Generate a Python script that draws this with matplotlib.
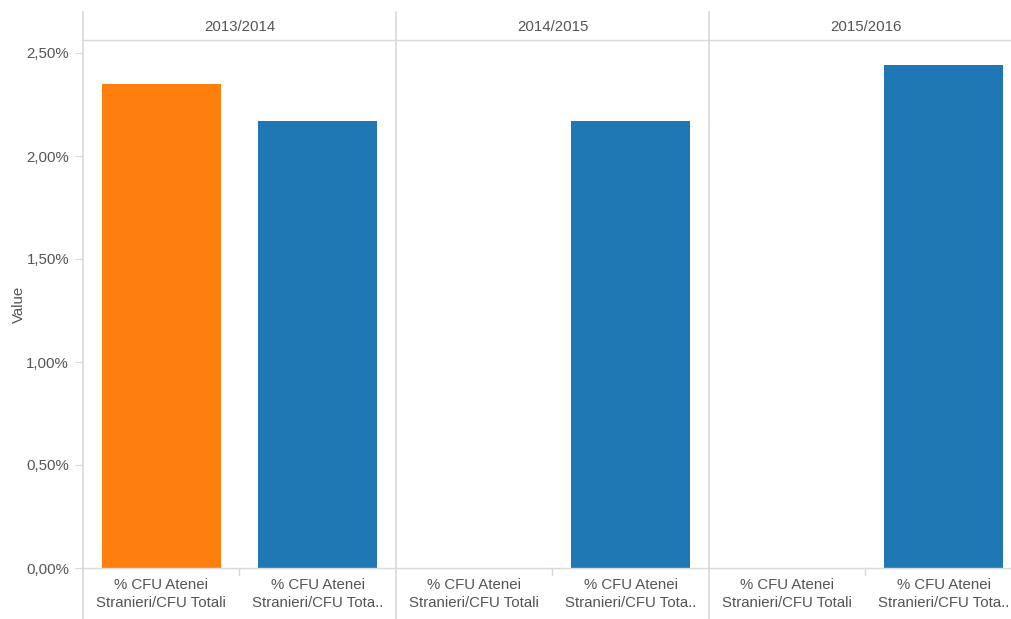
import numpy as np
import matplotlib
matplotlib.use("Agg")
import matplotlib.pyplot as plt
from matplotlib.transforms import blended_transform_factory
from matplotlib.lines import Line2D

years = ["2013/2014", "2014/2015", "2015/2016"]
labels = ["% CFU Atenei\nStranieri/CFU Totali", "% CFU Atenei\nStranieri/CFU Tota.."]
# value per (year, measure); nan = no bar
values = [[2.35, 2.17], [np.nan, 2.17], [np.nan, 2.44]]
colors = ["#ff7f0e", "#1f77b4"]
yticks = [0.0, 0.5, 1.0, 1.5, 2.0, 2.5]

W, H = 1012, 619
plt.rcParams["font.family"] = ["Liberation Sans", "DejaVu Sans"]
fig = plt.figure(figsize=(W / 100, H / 100), dpi=100)

# axes: x from 83px to 1022px (last panel cut off by figure), y from 40px to 568px
ax = fig.add_axes([83 / W, (H - 568) / H, 939 / W, 528 / H])
ymax = (568 - 40) / 206.0

text_col = "#555555"
line_col = "#d9d9d9"
fs = 10.8

xs, hs, cs = [], [], []
for i, row in enumerate(values):
    for j, v in enumerate(row):
        if not np.isnan(v):
            xs.append(i * 2 + j)
            hs.append(v)
            cs.append(colors[j])
ax.bar(xs, hs, width=0.76, color=cs)

ax.set_xlim(-0.5, 5.5)
ax.set_ylim(0, ymax)
for s in ax.spines.values():
    s.set_visible(False)

ax.set_yticks(yticks)
ax.set_yticklabels([f"{t:.2f}%".replace(".", ",") for t in yticks])
ax.tick_params(axis="y", length=6, color=line_col, labelcolor=text_col, labelsize=fs, pad=4)
ax.set_ylabel("Value", color=text_col, fontsize=fs)
ax.yaxis.set_label_coords(-57 / 939, 0.5)

ax.set_xticks(range(6))
ax.set_xticklabels(labels * 3, color=text_col, fontsize=fs, linespacing=1.35)
ax.tick_params(axis="x", length=0, pad=7)

tr = blended_transform_factory(ax.transData, fig.transFigure)
y_top = (H - 12) / H
y_head = (H - 40) / H
y_zero = (H - 568) / H

# panel dividers
for x in [-0.5, 1.5, 3.5]:
    fig.add_artist(Line2D([x, x], [0, y_top], transform=tr, color=line_col, lw=1.2))
# header line and zero line
fig.add_artist(Line2D([-0.5, 5.6], [y_head, y_head], transform=tr, color=line_col, lw=1))
fig.add_artist(Line2D([-0.5, 5.6], [y_zero, y_zero], transform=tr, color=line_col, lw=1))
# small ticks between measures
for x in [0.5, 2.5, 4.5]:
    fig.add_artist(Line2D([x, x], [y_zero, y_zero - 7 / H], transform=tr, color=line_col, lw=1))

for i, yr in enumerate(years):
    fig.text(i * 2 + 0.5, (H - 27) / H, yr, transform=tr, ha="center", va="center",
             color=text_col, fontsize=fs)

fig.savefig("out.png", dpi=100)
